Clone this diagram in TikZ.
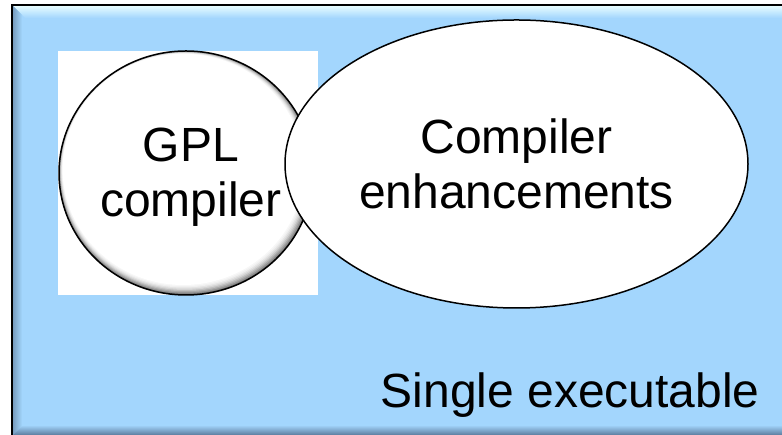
\documentclass[tikz,border=0pt]{standalone}
\usepackage{fontspec}
\setmainfont{Liberation Sans}
\usetikzlibrary{shapes.geometric}
\definecolor{bgblue}{RGB}{163,214,253}
\definecolor{hilite}{RGB}{230,252,255}
\definecolor{leftshade}{RGB}{120,158,192}
\definecolor{botshade}{RGB}{92,124,158}
\tikzset{
  bigtext/.style={font=\fontsize{48}{55}\selectfont, text=black},
  bubble/.style={shape=ellipse, draw=black, line width=1.5pt, inner sep=0pt},
}
\begin{document}
\begin{tikzpicture}[x=1pt,y=1pt]
\useasboundingbox (0,0) rectangle (782,435);
\fill[white] (0,0) rectangle (782,435);
% frame with bevel
\fill[bgblue] (12,0) rectangle (782,430);
\shade[top color=hilite, bottom color=bgblue] (13,429) -- (782,429) -- (782,417) -- (25,417) -- cycle;
\shade[left color=leftshade, right color=bgblue] (13,429) -- (22,420) -- (22,9) -- (13,0) -- cycle;
\shade[top color=bgblue, bottom color=botshade] (13,0) -- (782,0) -- (782,10) -- (23,10) -- cycle;
\draw[line width=2pt] (12,0) -- (12,430) -- (782,430);
% white square behind the GPL circle
\node[fill=white, minimum width=260, minimum height=244, inner sep=0pt] (sq) at (188,262) {};
% shaded GPL ball
\begin{scope}
  \clip (186,262) ellipse [x radius=127, y radius=122];
  \fill[black!55] (186,262) ellipse [x radius=127, y radius=122];
  \foreach \i/\c in {1/black!44,2/black!34,3/black!25,4/black!17,5/black!11,6/black!6,7/black!3,8/white} {
    \fill[\c] ({186-0.35*\i},{262+0.45*\i}) ellipse [x radius={127-0.8*\i}, y radius={122-0.8*\i}];
  }
\end{scope}
\node[bubble, minimum width=254, minimum height=244] (gpl) at (186,262) {};
\node[bigtext, align=center, inner sep=0pt] (gpltext) at (191,257.5) {GPL\\compiler};
% enhancements ellipse
\node[bubble, fill=white, minimum width=463, minimum height=288, align=center, bigtext] (enh) at (516.5,271) {Compiler\\enhancements};
% label
\node[bigtext, anchor=base east, inner sep=0pt] (single) at (760,27) {Single executable};
\end{tikzpicture}
\end{document}
